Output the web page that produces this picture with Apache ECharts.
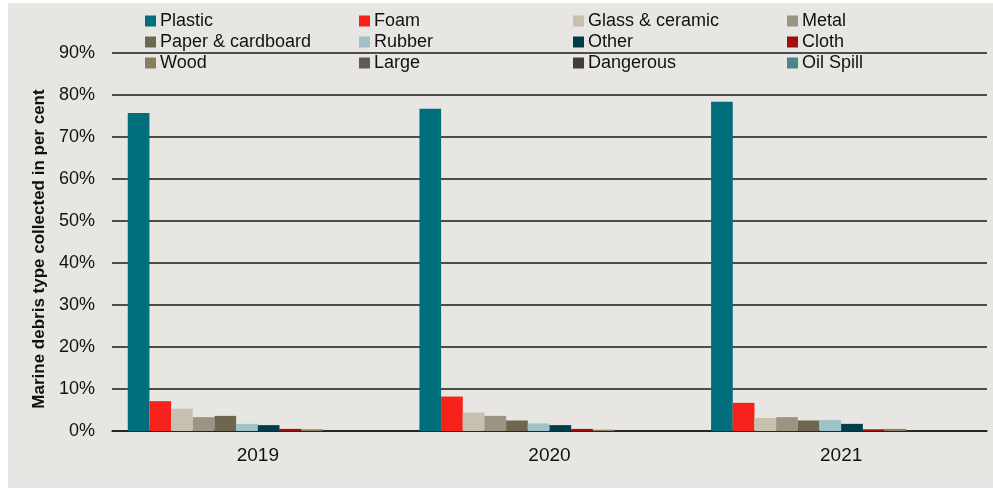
<!DOCTYPE html>
<html>
<head>
<meta charset="utf-8">
<script src="https://cdn.jsdelivr.net/npm/echarts@6/dist/echarts.min.js"></script>
<style>
  html, body { margin: 0; padding: 0; background: #ffffff; }
  #chart { width: 993px; height: 489px; }
</style>
</head>
<body>
<div id="chart"></div>
<script>
// Marine debris collected, share by type (per cent)
const years = ['2019', '2020', '2021'];
const debrisTypes = ['Plastic', 'Foam', 'Glass & ceramic', 'Metal', 'Paper & cardboard', 'Rubber',
  'Other', 'Cloth', 'Wood', 'Large', 'Dangerous', 'Oil Spill'];
const plastic   = [75.7, 76.7, 78.4];
const foam      = [7.1, 8.2, 6.7];
const glass     = [5.3, 4.4, 3.1];
const metal     = [3.3, 3.6, 3.3];
const paper     = [3.6, 2.5, 2.5];
const rubber    = [1.7, 1.8, 2.6];
const other     = [1.4, 1.4, 1.7];
const cloth     = [0.5, 0.5, 0.4];
const wood      = [0.4, 0.3, 0.5];
const large     = [0, 0, 0];
const dangerous = [0, 0, 0];
const oilSpill  = [0, 0, 0];
const yTicks = [0, 10, 20, 30, 40, 50, 60, 70, 80, 90];

const seriesValues = [plastic, foam, glass, metal, paper, rubber, other, cloth, wood, large, dangerous, oilSpill];
const colors = ['#006e7b', '#f5211a', '#c7c0ae', '#9d9382', '#6e6651', '#9ec2c7',
  '#003f49', '#a10e0e', '#8a7d60', '#645b50', '#443d32', '#4b868b'];

const FONT = '"Liberation Sans", Arial, sans-serif';
const chart = echarts.init(document.getElementById('chart'), null, { renderer: 'canvas' });

// Four legend columns, three rows each (row-major item order)
const colX = [145, 359, 573, 787];
const legends = colX.map((x, c) => ({
  orient: 'vertical',
  left: x,
  top: 12,
  itemWidth: 11,
  itemHeight: 11,
  itemGap: 3,
  icon: 'rect',
  padding: 0,
  textStyle: { fontFamily: FONT, fontSize: 18, color: '#111', lineHeight: 18, padding: [0, 0, 0, -1] },
  data: [debrisTypes[c], debrisTypes[c + 4], debrisTypes[c + 8]]
}));

chart.setOption({
  animation: false,
  backgroundColor: 'transparent',
  color: colors,
  graphic: [{
    type: 'rect', z: -10, silent: true,
    shape: { x: 8, y: 3, width: 985, height: 485 },
    style: { fill: '#e8e6e2' }
  }],
  legend: legends,
  grid: { left: 112, right: 6, top: 53, bottom: 58 },
  xAxis: {
    type: 'category',
    data: years,
    axisLine: { show: true, lineStyle: { color: '#1a1a1a', width: 1.5 } },
    axisTick: { show: false },
    axisLabel: { fontFamily: FONT, fontSize: 19, color: '#111', margin: 15 }
  },
  yAxis: {
    type: 'value',
    min: 0, max: 90, interval: 10,
    name: 'Marine debris type collected in per cent',
    nameLocation: 'middle',
    nameGap: 64,
    nameTextStyle: { fontFamily: FONT, fontSize: 17, fontWeight: 'bold', color: '#111', padding: [0, 14, 0, 0] },
    axisLine: { show: false },
    axisTick: { show: false },
    splitLine: { lineStyle: { color: '#1a1a1a', width: 1.5 } },
    axisLabel: {
      fontFamily: FONT, fontSize: 18, color: '#111', margin: 17,
      formatter: v => yTicks.includes(v) ? v + '%' : ''
    }
  },
  series: debrisTypes.map((name, i) => ({
    name,
    type: 'bar',
    data: seriesValues[i],
    barGap: '0%',
    barCategoryGap: '10.8%',
    itemStyle: { color: colors[i] }
  }))
});
</script>
</body>
</html>
